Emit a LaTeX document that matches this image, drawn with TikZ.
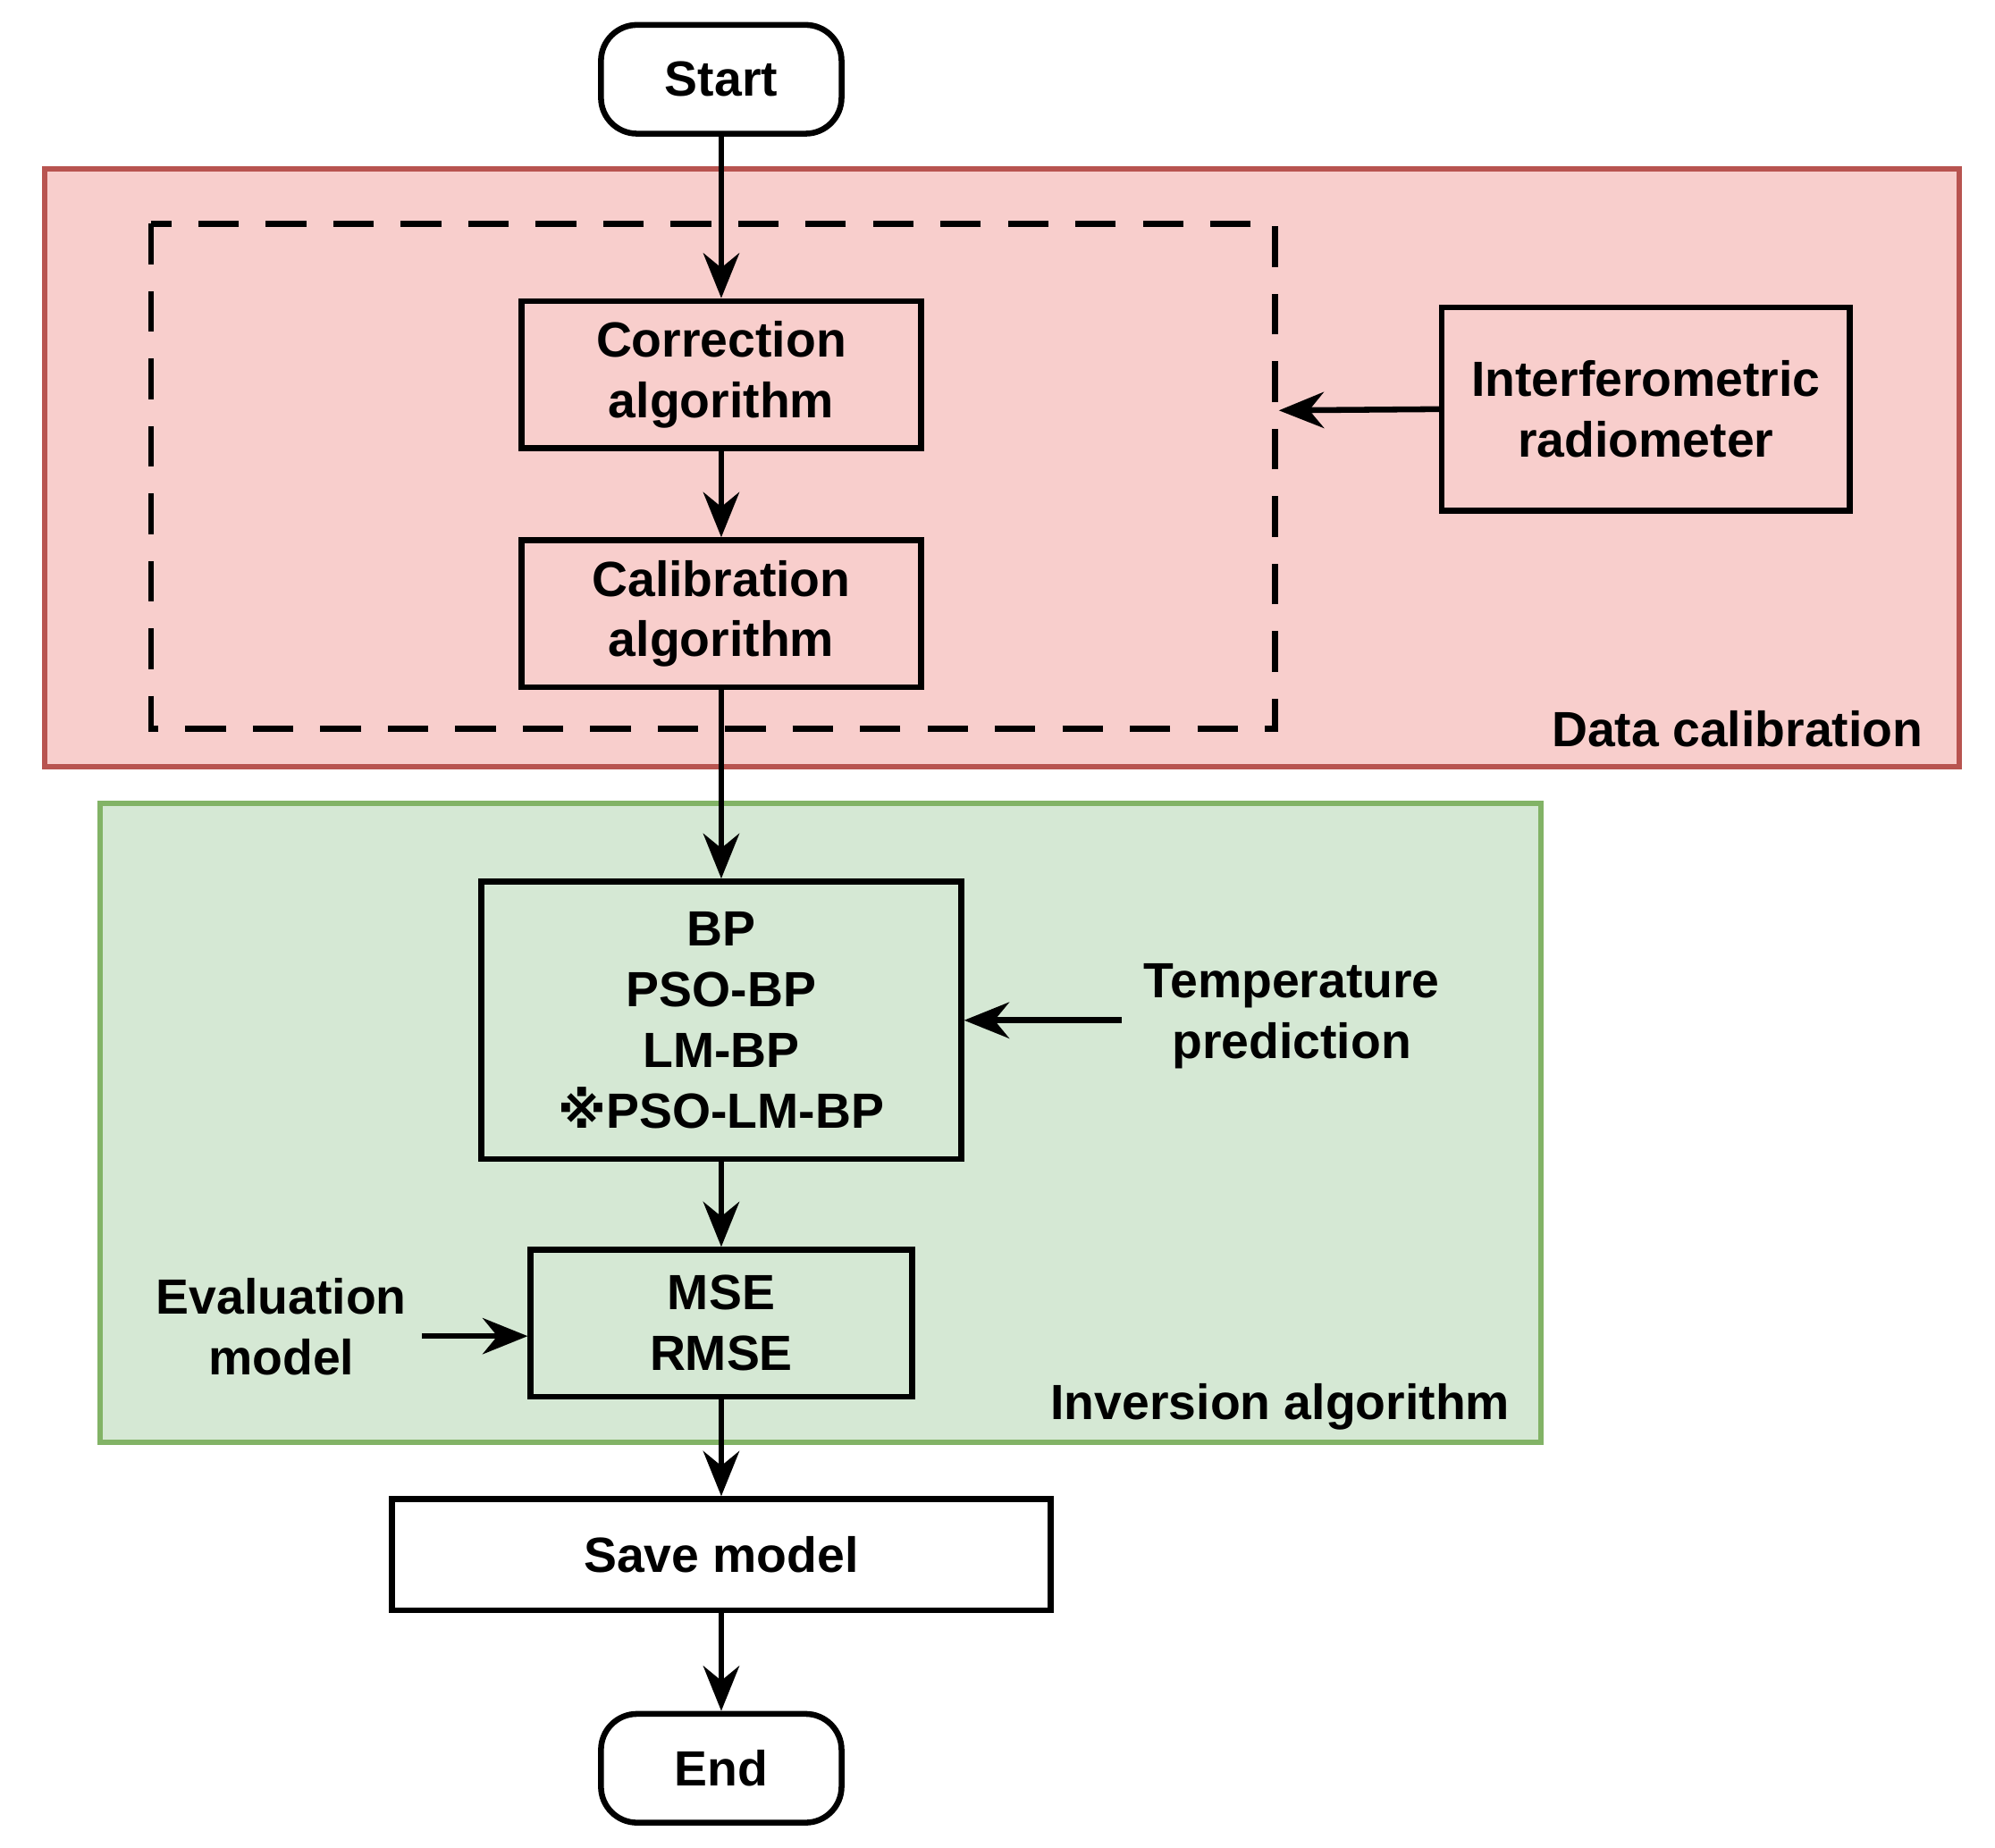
\documentclass[tikz,border=0pt]{standalone}
\usepackage{fontspec}
\setmainfont{Liberation Sans}
\newfontfamily\symf{DejaVu Sans}
\usetikzlibrary{arrows.meta}
\begin{document}
\begin{tikzpicture}[x=0.01cm,y=-0.01cm,
  box/.style={draw,line width=1.3pt,align=center,font=\fontsize{11}{13.5}\selectfont\bfseries,inner sep=0pt},
  txt/.style={align=center,font=\fontsize{11}{13.5}\selectfont\bfseries},
  arr/.style={line width=1.3pt,-{Stealth[length=10pt,width=8pt]}}]
\useasboundingbox (0,0) rectangle (1560,1445);
\definecolor{redf}{HTML}{F8CECC}\definecolor{redd}{HTML}{B85450}
\definecolor{grnf}{HTML}{D5E8D4}\definecolor{grnd}{HTML}{82B366}
\fill[redf,draw=redd,line width=1.2pt] (35,132) rectangle (1532,600);
\fill[grnf,draw=grnd,line width=1.2pt] (78,628) rectangle (1205,1128);
\draw[line width=1.3pt,dash pattern=on 9pt off 6pt] (118,175) rectangle (997,570);
\coordinate (dashR) at (1000,321);
\node[txt,anchor=east] (dc) at (1516,570) {Data calibration};
\node[txt,anchor=east] (ia) at (1193,1100) {Inversion algorithm};
\node[box,rounded corners=8pt,minimum width=1.88cm,minimum height=0.85cm] (start) at (564,62) {Start};
\node[box,minimum width=3.12cm,minimum height=1.15cm] (corr) at (564,293) {Correction\\algorithm};
\node[box,minimum width=3.12cm,minimum height=1.15cm] (cal) at (564,480) {Calibration\\algorithm};
\node[box,minimum width=3.19cm,minimum height=1.59cm] (ir) at (1287,320) {Interferometric\\radiometer};
\node[box,minimum width=3.75cm,minimum height=2.17cm] (bp) at (564,798) {BP\\PSO-BP\\LM-BP\\{\symf\bfseries ※}PSO-LM-BP};
\node[txt] (tp) at (1010,795) {Temperature\\prediction};
\node[box,minimum width=2.98cm,minimum height=1.15cm] (mse) at (564,1035) {MSE\\RMSE};
\node[txt] (ev) at (220,1038) {Evaluation\\model};
\node[box,minimum width=5.15cm,minimum height=0.87cm] (save) at (564,1216) {Save model};
\node[box,rounded corners=8pt,minimum width=1.88cm,minimum height=0.85cm] (end) at (564,1383) {End};
\draw[arr] (start) -- (corr);
\draw[arr] (corr) -- (cal);
\draw[arr] (cal) -- (bp);
\draw[arr] (bp) -- (mse);
\draw[arr] (mse) -- (save);
\draw[arr] (save) -- (end);
\draw[arr] (ir.west) -- (dashR);
\draw[arr] (tp.west|-bp.east) ++(-5,0) coordinate (tpa) (tpa) -- (bp.east);
\draw[arr] (ev.east|-mse.west) ++(0,10) coordinate (eva) (eva) -- (eva-|mse.west);
\end{tikzpicture}
\end{document}
